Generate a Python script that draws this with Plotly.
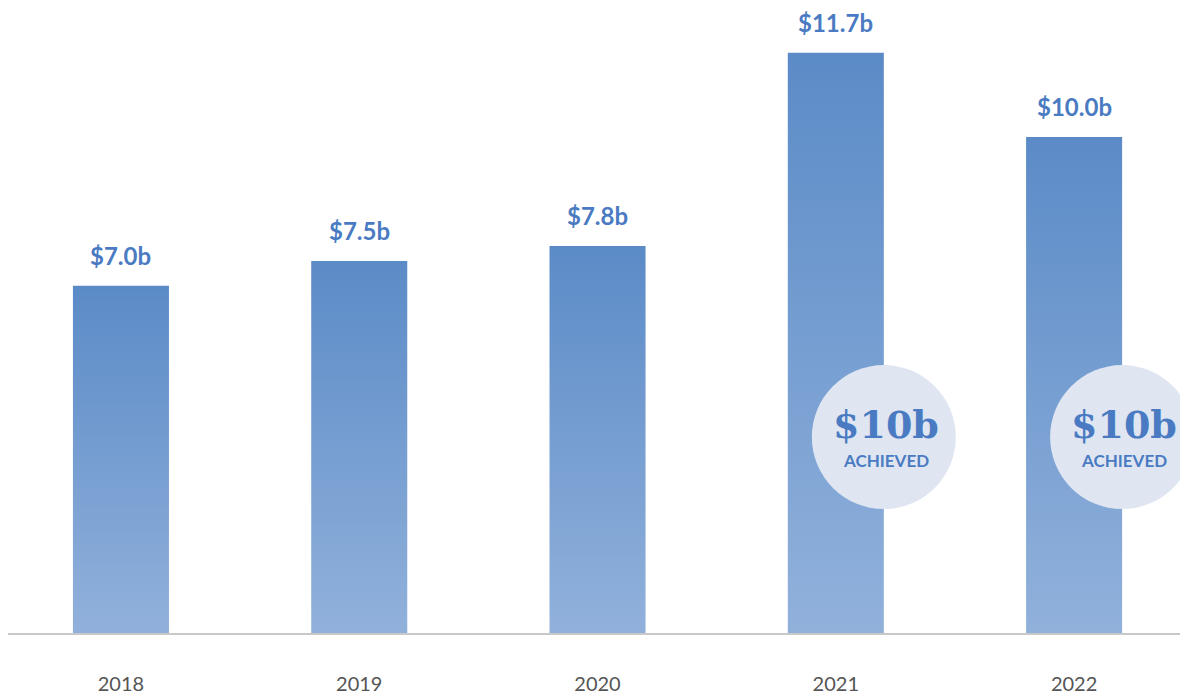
import plotly.graph_objects as go

# data
years = ["2018", "2019", "2020", "2021", "2022"]
values = [7.0, 7.5, 7.8, 11.7, 10.0]
value_labels = ["$7.0b", "$7.5b", "$7.8b", "$11.7b", "$10.0b"]
badge_years = ["2021", "2022"]
badge_title = "$10b"
badge_sub = "ACHIEVED"

BAR_W = 0.403
TOP_COLOR = "#5B8BC7"
BOTTOM_COLOR = "#91B1DB"
LABEL_COLOR = "#4A7BC2"
BADGE_FILL = "#DFE6F2"
BADGE_Y = 3.95

fig = go.Figure()

# bars drawn as filled shapes so they can carry a vertical gradient
for i, v in enumerate(values):
    x0, x1 = i - BAR_W / 2, i + BAR_W / 2
    fig.add_trace(go.Scatter(
        x=[x0, x1, x1, x0, x0],
        y=[0, 0, v, v, 0],
        mode="none",
        fill="toself",
        fillgradient=dict(type="vertical",
                          colorscale=[[0, BOTTOM_COLOR], [1, TOP_COLOR]]),
        hoverinfo="skip",
        showlegend=False,
    ))

# value labels above bars
for i, (v, lab) in enumerate(zip(values, value_labels)):
    fig.add_annotation(x=i, y=v, text=lab, showarrow=False,
                       yanchor="bottom", yshift=14,
                       font=dict(family="Lato", size=24, color=LABEL_COLOR,
                                 weight="bold"))

# "$10b achieved" badges, centred on the right edge of the bar
badge_x = [years.index(y) + BAR_W / 2 for y in badge_years]
fig.add_trace(go.Scatter(
    x=badge_x, y=[BADGE_Y] * len(badge_x), mode="markers",
    marker=dict(size=144, color=BADGE_FILL, line=dict(width=0)),
    cliponaxis=False, hoverinfo="skip", showlegend=False,
))
for bx in badge_x:
    fig.add_annotation(x=bx, y=BADGE_Y, text=badge_title, showarrow=False,
                       yanchor="bottom", yshift=-11, xshift=2, borderpad=0,
                       font=dict(family="DejaVu Serif", size=38,
                                 color=LABEL_COLOR, weight="bold"))
    fig.add_annotation(x=bx, y=BADGE_Y, text=badge_sub, showarrow=False,
                       yanchor="top", yshift=-12, xshift=2, borderpad=0,
                       font=dict(family="Lato", size=17,
                                 color=LABEL_COLOR, weight="bold"))

# page body adds an 8px margin, so the figure is 8px smaller each way
fig.update_layout(
    width=1180, height=688,
    margin=dict(l=0, r=0, t=0, b=63),
    paper_bgcolor="white", plot_bgcolor="white",
    xaxis=dict(range=[-0.474, 4.478], tickvals=list(range(len(years))),
               ticktext=years, showgrid=False, zeroline=False,
               showline=True, linecolor="#C8C8C8", linewidth=2,
               ticks="", ticklabelstandoff=32,
               tickfont=dict(family="Lato", size=20, color="#555555")),
    yaxis=dict(range=[0, 12.6], visible=False, showgrid=False,
               zeroline=False),
)

fig.write_html("out.html")
